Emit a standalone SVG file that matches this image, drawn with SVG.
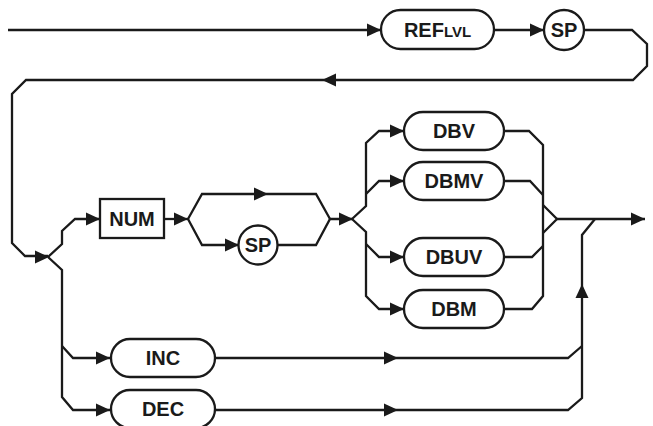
<svg xmlns="http://www.w3.org/2000/svg" width="653" height="426" viewBox="0 0 653 426">
<style>
.ln{fill:none;stroke:#1a1a1a;stroke-width:2.3;stroke-linejoin:miter}
.bx{fill:#fff;stroke:#1a1a1a;stroke-width:2.3}
.t{font-family:"Liberation Sans",Arial,sans-serif;font-weight:bold;font-size:20px;fill:#1a1a1a;text-anchor:middle}
.s{font-size:15px}
</style>
<defs>
<path id="ar" d="M-14,-6.5 L0,0 L-14,6.5 Z" fill="#1a1a1a"/>
</defs>
<rect width="653" height="426" fill="#fff"/>
<g id="connectors">
<g class="ln">
<path d="M8,30 H381"/>
<path d="M494,30 H544"/>
<path d="M584,30 H632 L647,44 V66 L633,80 H26 L12,94 V243 L25,256 H48"/>
<path d="M48,257 L62,244 V231 L75,219 H100"/>
<path d="M48,257 L62,270 V397 L73,410 H110"/>
<path d="M62,346 L73,358 H110"/>
<path d="M164,219 H188"/>
<path d="M188,219 L202,194 H316 L330,219"/>
<path d="M188,219 L202,245 H239"/>
<path d="M277,245 H316 L330,219 H352"/>
<path d="M352,219 L366,206 V143 L379,131 H404"/>
<path d="M366,194 L379,181 H404"/>
<path d="M352,219 L366,232 V296 L379,309 H404"/>
<path d="M366,244 L379,257 H404"/>
<path d="M504,131 H529 L543,145 V296 L532,309 H504"/>
<path d="M504,181 H530 L543,195"/>
<path d="M504,257 H532 L543,246"/>
<path d="M543,205 L557,219 L543,233"/>
<path d="M557,219 H645"/>
<path d="M214,358 H568 L582,346"/>
<path d="M214,410 H568 L582,398 V235 L595,219"/>
</g>
<use href="#ar" x="381" y="30"/>
<use href="#ar" x="544" y="30"/>
<use href="#ar" transform="translate(322,80) rotate(180)"/>
<use href="#ar" x="49" y="257"/>
<use href="#ar" x="100" y="219"/>
<use href="#ar" x="188" y="219"/>
<use href="#ar" x="268" y="194"/>
<use href="#ar" x="239" y="245"/>
<use href="#ar" x="353" y="219"/>
<use href="#ar" x="404" y="131"/>
<use href="#ar" x="404" y="181"/>
<use href="#ar" x="404" y="257"/>
<use href="#ar" x="404" y="309"/>
<use href="#ar" x="645" y="219"/>
<use href="#ar" x="110" y="358"/>
<use href="#ar" x="110" y="410"/>
<use href="#ar" x="398" y="358"/>
<use href="#ar" x="398" y="410"/>
<use href="#ar" transform="translate(582,284) rotate(-90)"/>
</g>
<g id="reflvl">
<rect class="bx" x="381" y="10" width="113" height="39" rx="19.5"/>
<text class="t" x="437.5" y="37">REF<tspan class="s">LVL</tspan></text>
</g>
<g id="sp1">
<circle class="bx" cx="564" cy="30" r="20"/>
<text class="t" x="564" y="37">SP</text>
</g>
<g id="num">
<rect class="bx" x="100" y="199" width="64" height="39"/>
<text class="t" x="132" y="226">NUM</text>
</g>
<g id="sp2">
<circle class="bx" cx="258" cy="245" r="19.5"/>
<text class="t" x="258" y="252">SP</text>
</g>
<g id="dbv">
<rect class="bx" x="404" y="112" width="100" height="38" rx="19"/>
<text class="t" x="454" y="138">DBV</text>
</g>
<g id="dbmv">
<rect class="bx" x="404" y="162" width="100" height="38" rx="19"/>
<text class="t" x="454" y="188">DBMV</text>
</g>
<g id="dbuv">
<rect class="bx" x="404" y="238" width="100" height="38" rx="19"/>
<text class="t" x="454" y="264">DBUV</text>
</g>
<g id="dbm">
<rect class="bx" x="404" y="290" width="100" height="38" rx="19"/>
<text class="t" x="454" y="316">DBM</text>
</g>
<g id="inc">
<rect class="bx" x="111" y="339" width="104" height="38" rx="19"/>
<text class="t" x="163" y="365">INC</text>
</g>
<g id="dec">
<rect class="bx" x="111" y="390" width="104" height="38" rx="19"/>
<text class="t" x="163" y="416">DEC</text>
</g>
</svg>
